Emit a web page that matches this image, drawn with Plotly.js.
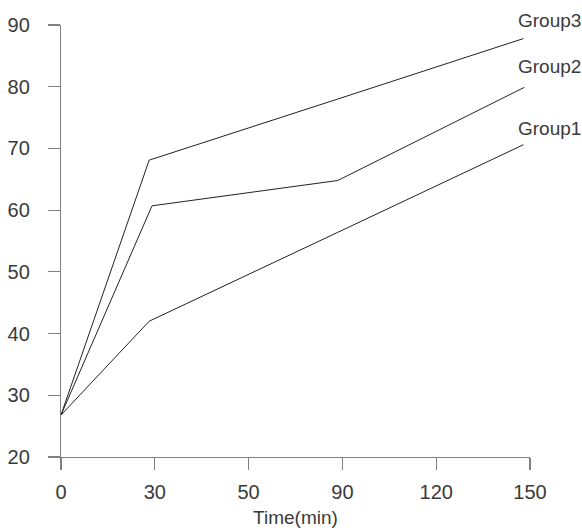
<!DOCTYPE html>
<html>
<head>
<meta charset="utf-8">
<script src="https://cdn.plot.ly/plotly-3.0.1.min.js"></script>
<style>
  html, body { margin: 0; padding: 0; background: #fff; }
  #chart { width: 582px; height: 531px; }
</style>
</head>
<body>
<div id="chart"></div>
<script>
// Time points sit on evenly spaced slots; tick labels name each slot.
const tickSlots = [0, 1, 2, 3, 4, 5];
const tickLabels = ['0', '30', '50', '90', '120', '150'];

// Measurement positions (slot units) and values for each group
const group1X = [0, 0.94, 2.95, 4.93];
const group1Y = [26.8, 42.0, 56.4, 70.6];

const group2X = [0, 0.97, 2.95, 4.94];
const group2Y = [26.8, 60.7, 64.8, 79.9];

const group3X = [0, 0.94, 2.95, 4.93];
const group3Y = [26.8, 68.1, 78.0, 87.8];

const groupNames = ['Group1', 'Group2', 'Group3'];
// Label heights in value units, next to each line's end
const groupLabelY = [73.3, 83.3, 90.8];

const Y_MIN = 20, Y_MAX = 90;
const lineStyle = { color: '#222', width: 1 };
const textColor = '#3a3a3a';
const fontFamily = '"Liberation Sans", Arial, sans-serif';

const traces = [
  { x: group1X, y: group1Y, name: groupNames[0] },
  { x: group2X, y: group2Y, name: groupNames[1] },
  { x: group3X, y: group3Y, name: groupNames[2] }
].map(t => Object.assign(t, {
  type: 'scatter', mode: 'lines', line: lineStyle, hoverinfo: 'skip'
}));

// Labels use paper y so the top one can sit above the axis range
const annotations = groupNames.map((name, i) => ({
  x: 4.85, y: (groupLabelY[i] - Y_MIN) / (Y_MAX - Y_MIN),
  xref: 'x', yref: 'paper',
  text: name, showarrow: false, xanchor: 'left', yanchor: 'middle',
  font: { family: fontFamily, size: 19, color: textColor }
}));

const axisCommon = {
  showgrid: false, zeroline: false, showline: true,
  linecolor: '#808080', linewidth: 1.2,
  ticks: 'outside', ticklen: 12, tickwidth: 1.2, tickcolor: '#808080',
  tickfont: { family: fontFamily, size: 20, color: textColor },
  fixedrange: true
};

const layout = {
  width: 582, height: 531,
  margin: { l: 61, r: 52, t: 25, b: 74 },
  paper_bgcolor: '#fff', plot_bgcolor: '#fff',
  showlegend: false,
  xaxis: Object.assign({}, axisCommon, {
    range: [0, 5], tickmode: 'array', tickvals: tickSlots, ticktext: tickLabels,
    ticklabelstandoff: 5,
    title: { text: 'Time(min)', standoff: 8,
             font: { family: fontFamily, size: 19, color: textColor } }
  }),
  yaxis: Object.assign({}, axisCommon, {
    range: [Y_MIN, Y_MAX], tickmode: 'array', tickvals: [20, 30, 40, 50, 60, 70, 80, 90],
    ticklabelstandoff: 14
  }),
  annotations: annotations
};

Plotly.newPlot('chart', traces, layout, { displayModeBar: false, staticPlot: true });
</script>
</body>
</html>
